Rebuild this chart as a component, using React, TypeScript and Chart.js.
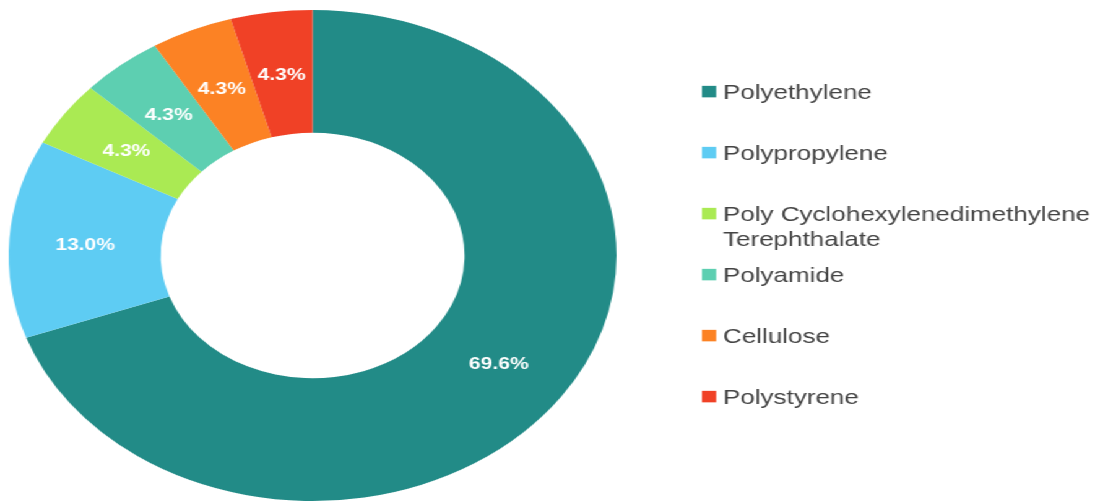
import React, { useEffect, useRef } from "react";
import { Chart, registerables } from "chart.js";

Chart.register(...registerables);

// ---- data ----
const categories: string[] = [
  "Polyethylene",
  "Polypropylene",
  "Poly Cyclohexylenedimethylene Terephthalate",
  "Polyamide",
  "Cellulose",
  "Polystyrene",
];
const counts: number[] = [16, 3, 1, 1, 1, 1];
const colors: string[] = ["#228B87", "#5ECCF3", "#AAEA53", "#5DCFB1", "#FC8224", "#F04126"];

// ---- layout / style ----
const STRETCH = 1.238;
const PAGE_W = 1097;
const PAGE_H = 502;
const CANVAS_W = Math.round(PAGE_W / STRETCH);
const FONT = '"Liberation Sans", Arial, sans-serif';
const CAP_MID = 0.358; // half cap-height as fraction of font size

const percentLabels = {
  id: "percentLabels",
  afterDatasetsDraw(chart: any) {
    const ctx = chart.ctx as CanvasRenderingContext2D;
    const meta = chart.getDatasetMeta(0);
    const data = chart.data.datasets[0].data as number[];
    const total = data.reduce((a, b) => a + b, 0);
    const size = 17;
    ctx.save();
    ctx.font = `bold ${size}px ${FONT}`;
    ctx.fillStyle = "#ffffff";
    ctx.textAlign = "center";
    ctx.textBaseline = "alphabetic";
    meta.data.forEach((arc: any, i: number) => {
      const p = arc.getCenterPoint();
      ctx.fillText(((data[i] / total) * 100).toFixed(1) + "%", p.x, p.y + 1 + size * CAP_MID);
    });
    ctx.restore();
  },
};

function wrapText(ctx: CanvasRenderingContext2D, text: string, maxWidth: number): string[] {
  const words = text.split(" ");
  const lines: string[] = [];
  let cur = "";
  for (const w of words) {
    const test = cur ? cur + " " + w : w;
    if (cur && ctx.measureText(test).width > maxWidth) {
      lines.push(cur);
      cur = w;
    } else {
      cur = test;
    }
  }
  if (cur) lines.push(cur);
  return lines;
}

const sideLegend = {
  id: "sideLegend",
  afterDraw(chart: any) {
    const ctx = chart.ctx as CanvasRenderingContext2D;
    const labels = chart.data.labels as string[];
    const bg = chart.data.datasets[0].backgroundColor as string[];
    const size = 21;
    const boxX = 567;
    const box = 11.5;
    const textX = 584;
    const firstY = 91.6;
    const step = 61;
    const lineH = 24.5;
    ctx.save();
    ctx.font = `${size}px ${FONT}`;
    ctx.textAlign = "left";
    ctx.textBaseline = "alphabetic";
    labels.forEach((label, i) => {
      const y = firstY + i * step;
      ctx.fillStyle = bg[i];
      ctx.fillRect(boxX, y - box / 2, box, box);
      ctx.fillStyle = "#444444";
      const lines = wrapText(ctx, label, chart.width - textX);
      lines.forEach((ln, j) => ctx.fillText(ln, textX, y + j * lineH + size * CAP_MID));
    });
    ctx.restore();
  },
};

export default function App() {
  const ref = useRef<HTMLCanvasElement | null>(null);

  useEffect(() => {
    if (!ref.current) return;
    const chart = new Chart(ref.current, {
      type: "doughnut",
      data: {
        labels: categories,
        datasets: [
          {
            data: counts,
            backgroundColor: colors,
            borderWidth: 0,
          },
        ],
      },
      options: {
        responsive: false,
        animation: false,
        cutout: "50%",
        layout: { padding: { left: 7, right: CANVAS_W - 498, top: 10, bottom: 1 } },
        plugins: {
          legend: { display: false },
          tooltip: { enabled: false },
        },
      },
      plugins: [percentLabels, sideLegend],
    });
    return () => chart.destroy();
  }, []);

  return (
    <div
      style={{
        position: "absolute",
        left: 0,
        top: 0,
        width: CANVAS_W,
        height: PAGE_H,
        transform: `scaleX(${STRETCH})`,
        transformOrigin: "0 0",
        background: "#ffffff",
      }}
    >
      <canvas ref={ref} width={CANVAS_W} height={PAGE_H} style={{ display: "block" }} />
    </div>
  );
}
